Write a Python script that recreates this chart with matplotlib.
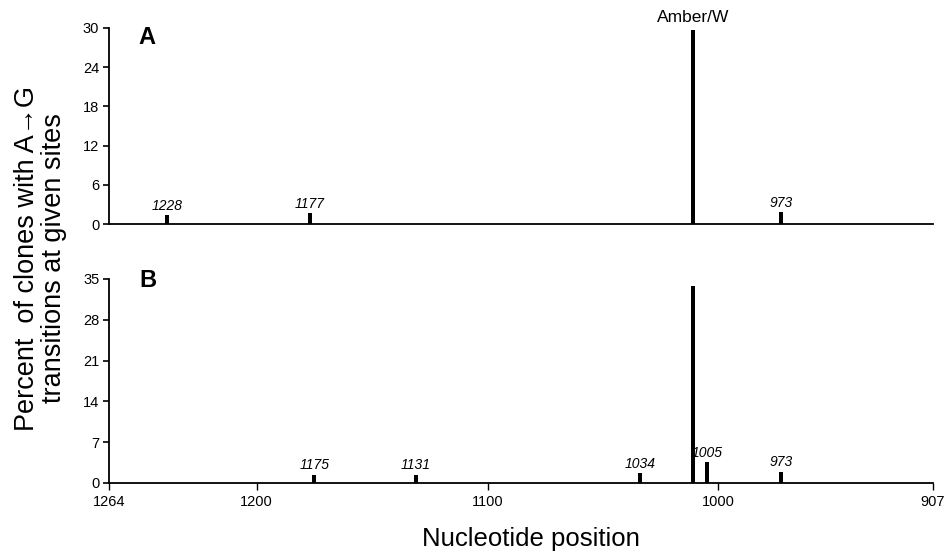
import matplotlib
matplotlib.use("Agg")
import matplotlib.pyplot as plt

plt.rcParams['font.family'] = ['Liberation Sans', 'DejaVu Sans']

# Panel A data
pos_A = [1239, 1177, 1011, 973]
val_A = [1.4, 1.7, 29.7, 1.8]
lab_A = ['1228', '1177', 'Amber/W', '973']

# Panel B data
pos_B = [1175, 1131, 1034, 1011, 1005, 973]
val_B = [1.4, 1.4, 1.7, 33.8, 3.6, 1.9]
lab_B = ['1175', '1131', '1034', '', '1005', '973']

yticks_A = [0, 6, 12, 18, 24, 30]
yticks_B = [0, 7, 14, 21, 28, 35]
xticks = [1264, 1200, 1100, 1000, 907]

W, H = 945, 559
fig = plt.figure(figsize=(W / 100, H / 100), dpi=100)

def px_axes(l, r, t, b):
    return fig.add_axes([l / W, 1 - b / H, (r - l) / W, (b - t) / H])

axA = px_axes(109, 933, 28, 224)
axB = px_axes(109, 933, 279, 483)

for ax, pos, val, lab, yt in [(axA, pos_A, val_A, lab_A, yticks_A),
                              (axB, pos_B, val_B, lab_B, yticks_B)]:
    ax.bar(pos, val, width=1.7, color='black', linewidth=0)
    ax.set_xlim(1264, 907)
    ax.set_ylim(0, yt[-1])
    ax.set_yticks(yt)
    ax.spines['top'].set_visible(False)
    ax.spines['right'].set_visible(False)
    ax.spines['left'].set_linewidth(1.3)
    ax.spines['bottom'].set_linewidth(1.3)
    ax.tick_params(axis='y', direction='out', length=4, width=1.2, labelsize=10.5, pad=3)
    for p, v, t in zip(pos, val, lab):
        if not t:
            continue
        if t == 'Amber/W':
            ax.text(p, v + 0.8, t, ha='center', va='bottom', fontsize=12.5, clip_on=False)
        else:
            ax.text(p, v + yt[-1] * 0.012, t, ha='center', va='bottom', fontsize=10,
                    style='italic', clip_on=False)

axA.set_xticks([])
axA.tick_params(axis='x', length=0)
axB.set_xticks(xticks)
axB.set_xticklabels([str(x) for x in xticks])
axB.tick_params(axis='x', direction='out', length=5, width=1.0, labelsize=10.5, pad=4)

axA.text(0.046, 1.01, 'A', transform=axA.transAxes, fontsize=17, fontweight='bold',
         ha='center', va='top')
axB.text(0.047, 1.05, 'B', transform=axB.transAxes, fontsize=17, fontweight='bold',
         ha='center', va='top')

fig.text(0.043, 0.538, 'Percent  of clones with A\u2192G\ntransitions at given sites',
         rotation=90, ha='center', va='center', fontsize=19.5, linespacing=1.05)
fig.text(0.562, 0.035, 'Nucleotide position', ha='center', va='center', fontsize=18.5)

fig.savefig('out.png', dpi=100)
